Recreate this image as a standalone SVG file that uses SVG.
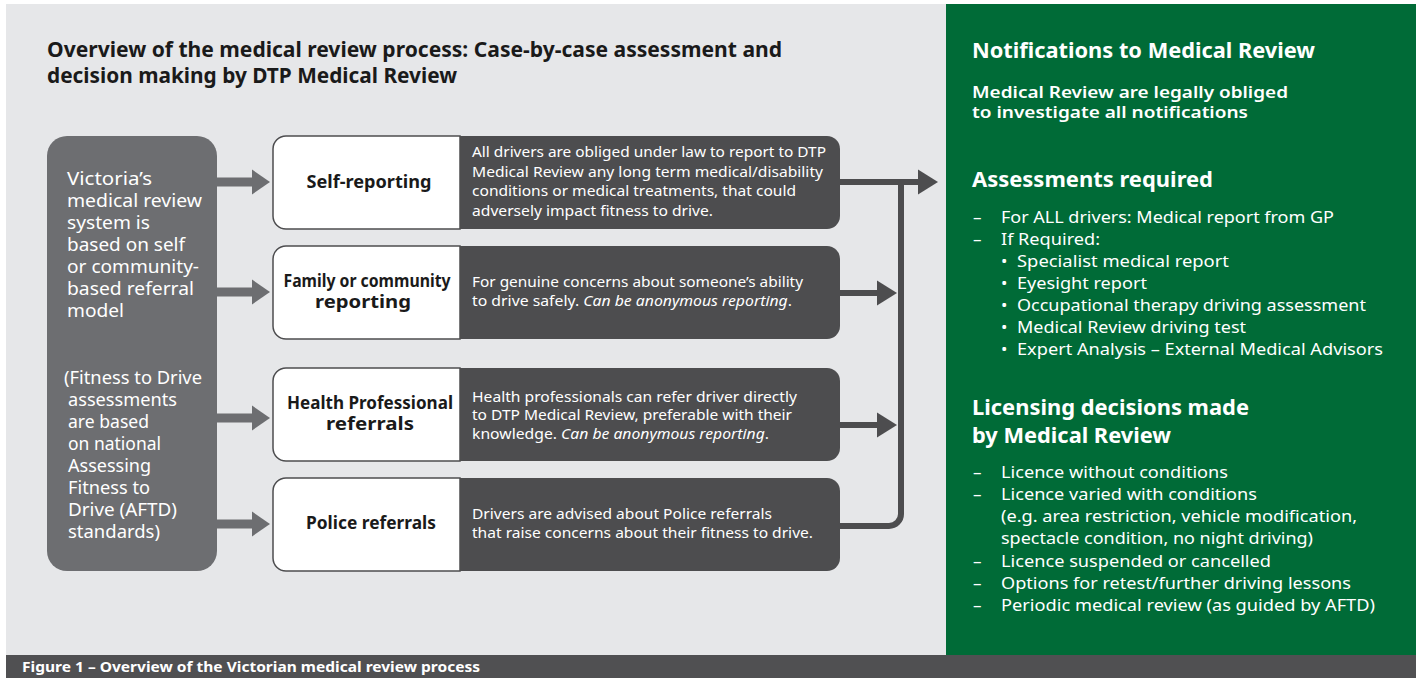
<svg xmlns="http://www.w3.org/2000/svg" width="1416" height="678" viewBox="0 0 1416 678">
  <style>
    text { font-family: "Noto Sans", "Open Sans", "Liberation Sans", sans-serif; }
    .title { font-size: 20.5px; font-weight: 700; fill: #1a1a1a; }
    .lead { font-size: 18px; fill: #ffffff; }
    .label { font-size: 17px; font-weight: 700; fill: #1a1a1a; text-anchor: middle; }
    .desc { font-size: 14.5px; fill: #ffffff; }
    .head { font-size: 21px; font-weight: 700; fill: #ffffff; }
    .sub { font-size: 16.5px; font-weight: 600; fill: #ffffff; }
    .item { font-size: 17px; fill: #ffffff; }
    .caption { font-size: 14.5px; font-weight: 700; fill: #ffffff; }
    .labelbox { fill: #ffffff; stroke: #4d4d4f; stroke-width: 1.5; }
    .descbox { fill: #4d4d4f; }
    .feed { fill: none; stroke: #6d6e71; stroke-width: 9; }
    .flow { fill: none; stroke: #4d4d4f; stroke-width: 6; }
  </style>
  <defs>
    <marker id="headGrey" markerUnits="userSpaceOnUse" markerWidth="18" markerHeight="25" refX="0" refY="12.5" orient="auto" overflow="visible">
      <path d="M0,0 L18,12.5 L0,25 Z" fill="#6d6e71"/>
    </marker>
    <marker id="headDark" markerUnits="userSpaceOnUse" markerWidth="20" markerHeight="25" refX="0" refY="12.5" orient="auto" overflow="visible">
      <path d="M0,0 L20,12.5 L0,25 Z" fill="#4d4d4f"/>
    </marker>
  </defs>

  <!-- page -->
  <rect x="0" y="0" width="1416" height="678" fill="#ffffff"/>
  <rect x="6" y="4" width="940" height="651" fill="#e6e7e9"/>
  <rect x="946" y="4" width="470" height="651" fill="#006b37"/>

  <!-- heading -->
  <g id="heading">
    <text class="title" x="47" y="57" textLength="735" lengthAdjust="spacingAndGlyphs">Overview of the medical review process: Case-by-case assessment and</text>
    <text class="title" x="47" y="83" textLength="410" lengthAdjust="spacingAndGlyphs">decision making by DTP Medical Review</text>
  </g>

  <!-- source box -->
  <g id="system">
    <rect x="47" y="136" width="170" height="435" rx="20" fill="#6d6e71"/>
    <text class="lead" x="67" y="185" textLength="85" lengthAdjust="spacingAndGlyphs">Victoria’s</text>
    <text class="lead" x="67" y="207" textLength="135" lengthAdjust="spacingAndGlyphs">medical review</text>
    <text class="lead" x="67" y="229" textLength="83" lengthAdjust="spacingAndGlyphs">system is</text>
    <text class="lead" x="67" y="251" textLength="118" lengthAdjust="spacingAndGlyphs">based on self</text>
    <text class="lead" x="67" y="273" textLength="132" lengthAdjust="spacingAndGlyphs">or community-</text>
    <text class="lead" x="67" y="295" textLength="127" lengthAdjust="spacingAndGlyphs">based referral</text>
    <text class="lead" x="67" y="317" textLength="57" lengthAdjust="spacingAndGlyphs">model</text>
    <text class="lead" x="64" y="384" textLength="138" lengthAdjust="spacingAndGlyphs">(Fitness to Drive</text>
    <text class="lead" x="68" y="406" textLength="109" lengthAdjust="spacingAndGlyphs">assessments</text>
    <text class="lead" x="68" y="428" textLength="81" lengthAdjust="spacingAndGlyphs">are based</text>
    <text class="lead" x="68" y="450" textLength="93" lengthAdjust="spacingAndGlyphs">on national</text>
    <text class="lead" x="68" y="472" textLength="83" lengthAdjust="spacingAndGlyphs">Assessing</text>
    <text class="lead" x="68" y="494" textLength="82" lengthAdjust="spacingAndGlyphs">Fitness to</text>
    <text class="lead" x="68" y="516" textLength="109" lengthAdjust="spacingAndGlyphs">Drive (AFTD)</text>
    <text class="lead" x="68" y="538" textLength="92" lengthAdjust="spacingAndGlyphs">standards)</text>
  </g>

  <!-- reporting routes -->
  <g id="self-reporting">
    <rect class="descbox" x="440" y="136" width="400" height="93" rx="13"/>
    <path class="labelbox" d="M460,136 H286 A13,13 0 0 0 273,149 V216 A13,13 0 0 0 286,229 H460 Z"/>
    <text class="label" x="369" y="188" textLength="125" lengthAdjust="spacingAndGlyphs">Self-reporting</text>
    <text class="desc" x="472" y="157" textLength="354" lengthAdjust="spacingAndGlyphs">All drivers are obliged under law to report to DTP</text>
    <text class="desc" x="472" y="176.5" textLength="351" lengthAdjust="spacingAndGlyphs">Medical Review any long term medical/disability</text>
    <text class="desc" x="472" y="196" textLength="324" lengthAdjust="spacingAndGlyphs">conditions or medical treatments, that could</text>
    <text class="desc" x="472" y="215.5" textLength="241" lengthAdjust="spacingAndGlyphs">adversely impact fitness to drive.</text>
  </g>

  <g id="family-reporting">
    <rect class="descbox" x="440" y="246" width="400" height="93" rx="13"/>
    <path class="labelbox" d="M460,246 H286 A13,13 0 0 0 273,259 V326 A13,13 0 0 0 286,339 H460 Z"/>
    <text class="label" x="367" y="286.5" textLength="167" lengthAdjust="spacingAndGlyphs">Family or community</text>
    <text class="label" x="363" y="307.5" textLength="96" lengthAdjust="spacingAndGlyphs">reporting</text>
    <text class="desc" x="472" y="287" textLength="331" lengthAdjust="spacingAndGlyphs">For genuine concerns about someone’s ability</text>
    <text class="desc" x="472" y="306" textLength="320" lengthAdjust="spacingAndGlyphs">to drive safely. <tspan font-style="italic">Can be anonymous reporting</tspan>.</text>
  </g>

  <g id="health-referrals">
    <rect class="descbox" x="440" y="368" width="400" height="93" rx="13"/>
    <path class="labelbox" d="M460,368 H286 A13,13 0 0 0 273,381 V448 A13,13 0 0 0 286,461 H460 Z"/>
    <text class="label" x="370" y="408.5" textLength="166" lengthAdjust="spacingAndGlyphs">Health Professional</text>
    <text class="label" x="370" y="429.5" textLength="88" lengthAdjust="spacingAndGlyphs">referrals</text>
    <text class="desc" x="472" y="401.5" textLength="325" lengthAdjust="spacingAndGlyphs">Health professionals can refer driver directly</text>
    <text class="desc" x="472" y="420" textLength="320" lengthAdjust="spacingAndGlyphs">to DTP Medical Review, preferable with their</text>
    <text class="desc" x="472" y="438.5" textLength="297" lengthAdjust="spacingAndGlyphs">knowledge. <tspan font-style="italic">Can be anonymous reporting</tspan>.</text>
  </g>

  <g id="police-referrals">
    <rect class="descbox" x="440" y="478" width="400" height="93" rx="13"/>
    <path class="labelbox" d="M460,478 H286 A13,13 0 0 0 273,491 V558 A13,13 0 0 0 286,571 H460 Z"/>
    <text class="label" x="371" y="529" textLength="130" lengthAdjust="spacingAndGlyphs">Police referrals</text>
    <text class="desc" x="472" y="519" textLength="300" lengthAdjust="spacingAndGlyphs">Drivers are advised about Police referrals</text>
    <text class="desc" x="472" y="537.5" textLength="341" lengthAdjust="spacingAndGlyphs">that raise concerns about their fitness to drive.</text>
  </g>

  <!-- arrows -->
  <g id="connectors">
    <line class="feed" x1="217" y1="182" x2="252" y2="182" marker-end="url(#headGrey)"/>
    <line class="feed" x1="217" y1="292" x2="252" y2="292" marker-end="url(#headGrey)"/>
    <line class="feed" x1="217" y1="418" x2="252" y2="418" marker-end="url(#headGrey)"/>
    <line class="feed" x1="217" y1="524" x2="252" y2="524" marker-end="url(#headGrey)"/>

    <path class="flow" d="M840,526 H889 A12,12 0 0 0 901,514 V179"/>
    <line class="flow" x1="840" y1="182" x2="918" y2="182" marker-end="url(#headDark)"/>
    <line class="flow" x1="840" y1="293" x2="877" y2="293" marker-end="url(#headDark)"/>
    <line class="flow" x1="840" y1="425" x2="877" y2="425" marker-end="url(#headDark)"/>
  </g>

  <!-- medical review outcomes -->
  <g id="notifications">
    <text class="head" x="972" y="58" textLength="343" lengthAdjust="spacingAndGlyphs">Notifications to Medical Review</text>
    <text class="sub" x="972" y="97.5" textLength="316" lengthAdjust="spacingAndGlyphs">Medical Review are legally obliged</text>
    <text class="sub" x="972" y="118" textLength="276" lengthAdjust="spacingAndGlyphs">to investigate all notifications</text>
  </g>

  <g id="assessments">
    <text class="head" x="972" y="187" textLength="241" lengthAdjust="spacingAndGlyphs">Assessments required</text>
    <text class="item" x="973" y="223">–</text>
    <text class="item" x="1001" y="223" textLength="333" lengthAdjust="spacingAndGlyphs">For ALL drivers: Medical report from GP</text>
    <text class="item" x="973" y="245">–</text>
    <text class="item" x="1001" y="245" textLength="99" lengthAdjust="spacingAndGlyphs">If Required:</text>
    <text class="item" x="1001" y="267">•</text>
    <text class="item" x="1017" y="267" textLength="212" lengthAdjust="spacingAndGlyphs">Specialist medical report</text>
    <text class="item" x="1001" y="289">•</text>
    <text class="item" x="1017" y="289" textLength="130" lengthAdjust="spacingAndGlyphs">Eyesight report</text>
    <text class="item" x="1001" y="311">•</text>
    <text class="item" x="1017" y="311" textLength="349" lengthAdjust="spacingAndGlyphs">Occupational therapy driving assessment</text>
    <text class="item" x="1001" y="333">•</text>
    <text class="item" x="1017" y="333" textLength="229" lengthAdjust="spacingAndGlyphs">Medical Review driving test</text>
    <text class="item" x="1001" y="355">•</text>
    <text class="item" x="1017" y="355" textLength="366" lengthAdjust="spacingAndGlyphs">Expert Analysis – External Medical Advisors</text>
  </g>

  <g id="decisions">
    <text class="head" x="972" y="415" textLength="277" lengthAdjust="spacingAndGlyphs">Licensing decisions made</text>
    <text class="head" x="972" y="443" textLength="199" lengthAdjust="spacingAndGlyphs">by Medical Review</text>
    <text class="item" x="973" y="478">–</text>
    <text class="item" x="1001" y="478" textLength="227" lengthAdjust="spacingAndGlyphs">Licence without conditions</text>
    <text class="item" x="973" y="500">–</text>
    <text class="item" x="1001" y="500" textLength="256" lengthAdjust="spacingAndGlyphs">Licence varied with conditions</text>
    <text class="item" x="1001" y="522" textLength="356" lengthAdjust="spacingAndGlyphs">(e.g. area restriction, vehicle modification,</text>
    <text class="item" x="1001" y="544" textLength="312" lengthAdjust="spacingAndGlyphs">spectacle condition, no night driving)</text>
    <text class="item" x="973" y="567">–</text>
    <text class="item" x="1001" y="567" textLength="270" lengthAdjust="spacingAndGlyphs">Licence suspended or cancelled</text>
    <text class="item" x="973" y="589">–</text>
    <text class="item" x="1001" y="589" textLength="350" lengthAdjust="spacingAndGlyphs">Options for retest/further driving lessons</text>
    <text class="item" x="973" y="611">–</text>
    <text class="item" x="1001" y="611" textLength="374" lengthAdjust="spacingAndGlyphs">Periodic medical review (as guided by AFTD)</text>
  </g>

  <!-- caption bar -->
  <g id="caption">
    <rect x="6" y="655" width="1410" height="23" fill="#505052"/>
    <text class="caption" x="22" y="672" textLength="458" lengthAdjust="spacingAndGlyphs">Figure 1 – Overview of the Victorian medical review process</text>
  </g>
</svg>
